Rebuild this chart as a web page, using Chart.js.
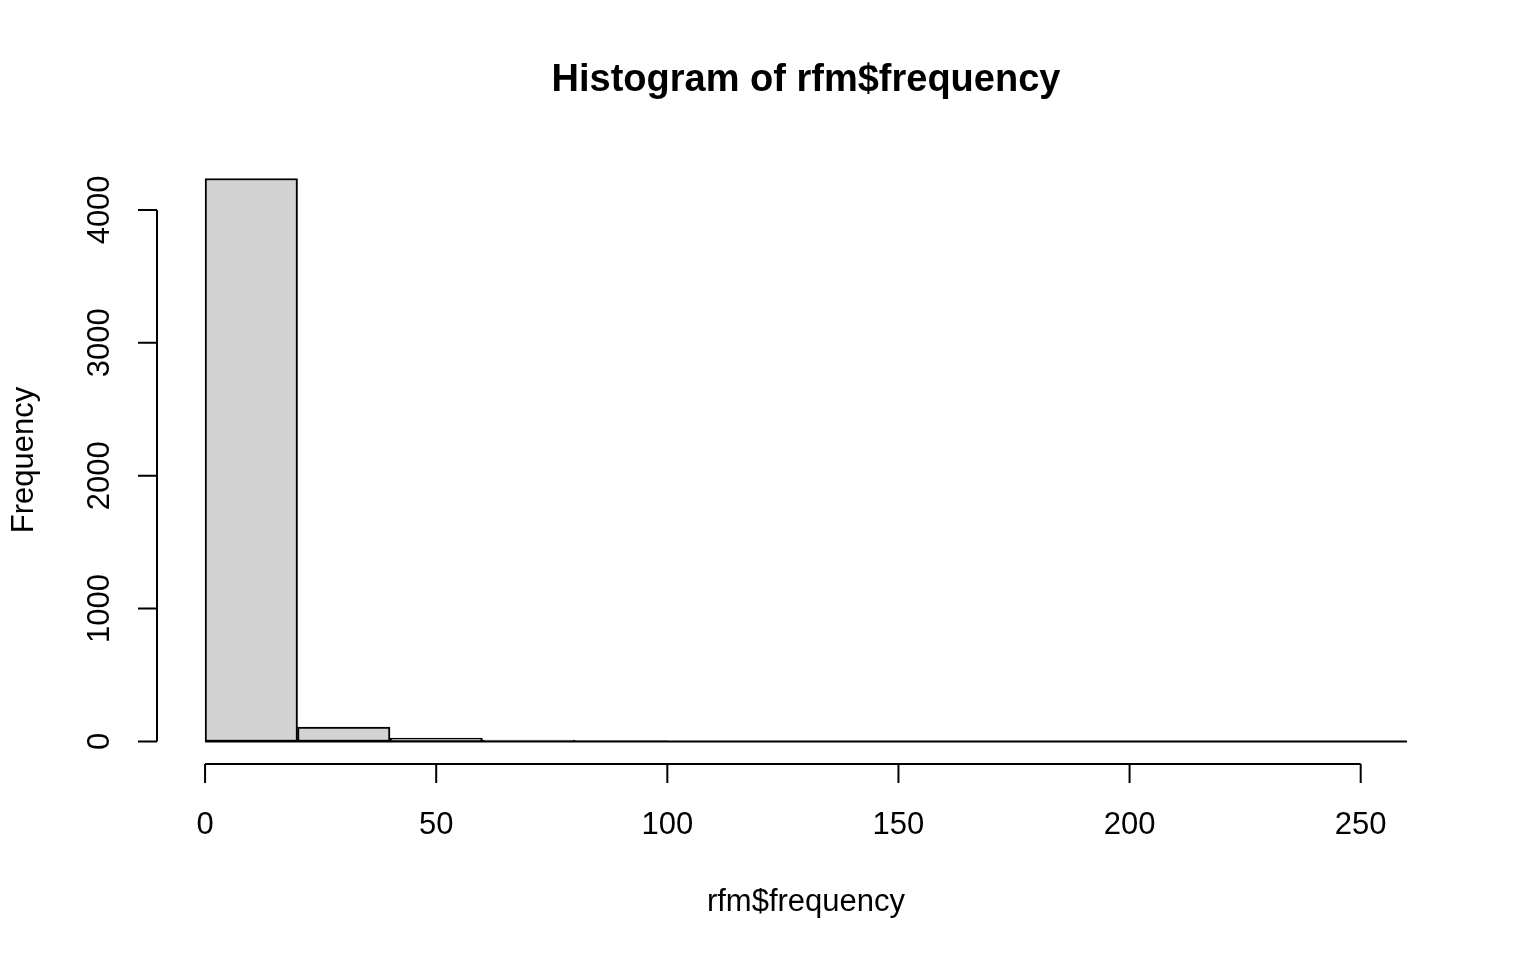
<!DOCTYPE html>
<html>
<head>
<meta charset="utf-8">
<script src="https://cdn.jsdelivr.net/npm/chart.js@4.4.1/dist/chart.umd.min.js"></script>
<style>
  html, body { margin: 0; padding: 0; background: #fff; overflow: hidden; }
  canvas { display: block; }
</style>
</head>
<body>
<canvas id="chart" width="1536" height="960"></canvas>
<script>
// histogram bins (width 20) and counts
const breaks = [0, 20, 40, 60, 80, 100, 120, 140, 160, 180, 200, 220, 240, 260];
const counts = [4236, 108, 25, 10, 4, 2, 1, 1, 0, 1, 0, 0, 1];
const xTicks = [0, 50, 100, 150, 200, 250];
const yTicks = [0, 1000, 2000, 3000, 4000];
const titleText = 'Histogram of rfm$frequency';
const xLabel = 'rfm$frequency';
const yLabel = 'Frequency';

const FONT = '"Liberation Sans", Arial, sans-serif';

// R pads the axis range by 4% on each side
const xPad = (breaks[breaks.length - 1] - breaks[0]) * 0.04;
const yMaxCount = Math.max(...counts);
const yPad = yMaxCount * 0.04;

const barData = counts.map((c, i) => ({ x: (breaks[i] + breaks[i + 1]) / 2, y: c }));

const rAxes = {
  id: 'rAxes',
  afterDraw(chart) {
    const { ctx, chartArea, scales: { x, y } } = chart;
    ctx.save();
    ctx.strokeStyle = '#000';
    ctx.fillStyle = '#000';
    ctx.lineWidth = 2;

    // baseline along the bar bottoms
    const y0 = y.getPixelForValue(0);
    ctx.beginPath();
    ctx.moveTo(x.getPixelForValue(breaks[0]), y0);
    ctx.lineTo(x.getPixelForValue(breaks[breaks.length - 1]), y0);
    ctx.stroke();

    // x axis
    const ax = chartArea.bottom;
    ctx.beginPath();
    ctx.moveTo(x.getPixelForValue(xTicks[0]), ax);
    ctx.lineTo(x.getPixelForValue(xTicks[xTicks.length - 1]), ax);
    xTicks.forEach(t => {
      const px = x.getPixelForValue(t);
      ctx.moveTo(px, ax);
      ctx.lineTo(px, ax + 19);
    });
    ctx.stroke();
    ctx.font = '31px ' + FONT;
    ctx.textAlign = 'center';
    ctx.textBaseline = 'middle';
    xTicks.forEach(t => ctx.fillText(String(t), x.getPixelForValue(t), ax + 61));

    // y axis
    const ay = chartArea.left;
    ctx.beginPath();
    ctx.moveTo(ay, y.getPixelForValue(yTicks[0]));
    ctx.lineTo(ay, y.getPixelForValue(yTicks[yTicks.length - 1]));
    yTicks.forEach(t => {
      const py = y.getPixelForValue(t);
      ctx.moveTo(ay, py);
      ctx.lineTo(ay - 19, py);
    });
    ctx.stroke();
    yTicks.forEach(t => {
      ctx.save();
      ctx.translate(ay - 57, y.getPixelForValue(t));
      ctx.rotate(-Math.PI / 2);
      ctx.fillText(String(t), 0, 0);
      ctx.restore();
    });

    // axis titles
    const cx = (chartArea.left + chartArea.right) / 2;
    const cy = (chartArea.top + chartArea.bottom) / 2;
    ctx.fillText(xLabel, cx, 902);
    ctx.save();
    ctx.translate(24, cy);
    ctx.rotate(-Math.PI / 2);
    ctx.fillText(yLabel, 0, 0);
    ctx.restore();

    // main title
    ctx.font = 'bold 38px ' + FONT;
    ctx.fillText(titleText, cx, 81);
    ctx.restore();
  }
};

new Chart(document.getElementById('chart'), {
  type: 'bar',
  data: {
    datasets: [{
      data: barData,
      backgroundColor: '#D3D3D3',
      borderColor: '#000',
      borderWidth: 2,
      borderSkipped: false,
      barPercentage: 1,
      categoryPercentage: 1
    }]
  },
  options: {
    responsive: false,
    animation: false,
    devicePixelRatio: 1,
    layout: { padding: { left: 157, right: 81, top: 156, bottom: 196 } },
    plugins: { legend: { display: false }, tooltip: { enabled: false } },
    scales: {
      x: {
        type: 'linear',
        display: false,
        offset: false,
        min: breaks[0] - xPad,
        max: breaks[breaks.length - 1] + xPad,
        afterBuildTicks: s => { s.ticks = breaks.map(v => ({ value: v })); }
      },
      y: {
        display: false,
        min: -yPad,
        max: yMaxCount + yPad
      }
    }
  },
  plugins: [rAxes]
});
</script>
</body>
</html>
